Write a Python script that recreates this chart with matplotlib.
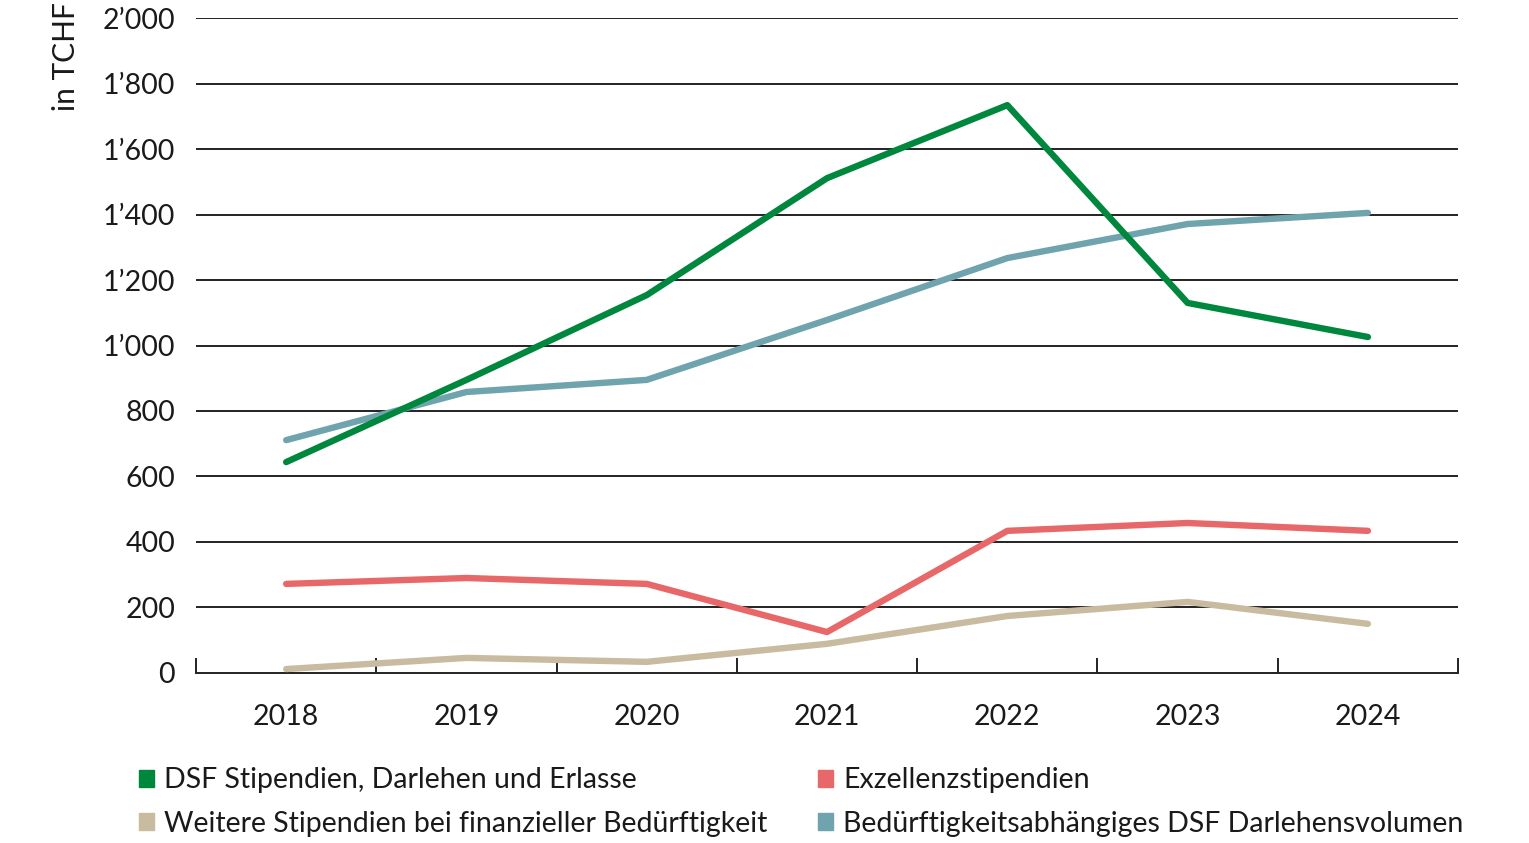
import numpy as np
import matplotlib
matplotlib.use("Agg")
import matplotlib.pyplot as plt
from matplotlib.patches import Patch
from matplotlib.ticker import FuncFormatter

# data ---------------------------------------------
years = ["2018", "2019", "2020", "2021", "2022", "2023", "2024"]
dsf = [644, 895, 1154, 1511, 1734, 1130, 1026]
darlehen = [711, 858, 895, 1078, 1267, 1371, 1405]
exzellenz = [272, 290, 272, 125, 434, 458, 434]
weitere = [12, 46, 34, 89, 174, 217, 150]

names = ["DSF Stipendien, Darlehen und Erlasse",
         "Weitere Stipendien bei finanzieller Bedürftigkeit",
         "Exzellenzstipendien",
         "Bedürftigkeitsabhängiges DSF Darlehensvolumen"]

c_green = "#00873e"
c_beige = "#c9bb9f"
c_red = "#e8686a"
c_blue = "#6fa3ad"

plt.rcParams['font.family'] = ['Lato', 'DejaVu Sans']
fs = 20.5

# figure -------------------------------------------
fig = plt.figure(figsize=(15.29, 8.43), dpi=100)
ax = fig.add_axes([0.1282, 0.2017, 0.9536 - 0.1282, 0.9786 - 0.2017])

x = np.arange(len(years))
lw = 4.6
ax.plot(x, weitere, color=c_beige, lw=lw, solid_capstyle='round', zorder=3)
ax.plot(x, exzellenz, color=c_red, lw=lw, solid_capstyle='round', zorder=3)
ax.plot(x, darlehen, color=c_blue, lw=lw, solid_capstyle='round', zorder=3)
ax.plot(x, dsf, color=c_green, lw=lw, solid_capstyle='round', zorder=4)

# axes styling
ax.set_xlim(-0.5, len(years) - 0.5)
ax.set_ylim(0, 2000)
ax.set_yticks(np.arange(0, 2001, 200))
ax.yaxis.set_major_formatter(FuncFormatter(
    lambda v, p: f"{int(v):,}".replace(",", "\u2019")))
for y in np.arange(200, 2001, 200):
    ax.axhline(y, color="#222222", lw=1.4, zorder=1)

for s in ["left", "right", "top"]:
    ax.spines[s].set_visible(False)
ax.spines["bottom"].set_color("#222222")
ax.spines["bottom"].set_linewidth(1.4)

ax.set_xticks(np.arange(-0.5, len(years), 1.0))
ax.set_xticklabels([])
ax.set_xticks(x, minor=True)
ax.set_xticklabels(years, minor=True)
ax.tick_params(axis='x', which='major', direction='in', length=11,
               width=1.4, color="#222222")
ax.tick_params(axis='x', which='minor', length=0, pad=22,
               labelsize=fs, labelcolor="#1a1a1a")
ax.tick_params(axis='y', length=0, pad=15, labelsize=fs,
               labelcolor="#1a1a1a")

fig.text(0.043, 0.998, "in TCHF", rotation=90, ha='center', va='top',
         fontsize=fs + 1, color="#1a1a1a")

# legend
handles = [Patch(color=c_green), Patch(color=c_beige),
           Patch(color=c_red), Patch(color=c_blue)]
fig.legend(handles, names, ncol=2, loc='upper left',
           bbox_to_anchor=(0.074, 0.12), frameon=False, fontsize=fs,
           handlelength=0.55, handleheight=0.55, handletextpad=0.35,
           columnspacing=1.75, labelspacing=0.6, labelcolor="#1a1a1a")

fig.savefig("out.png", dpi=100)
